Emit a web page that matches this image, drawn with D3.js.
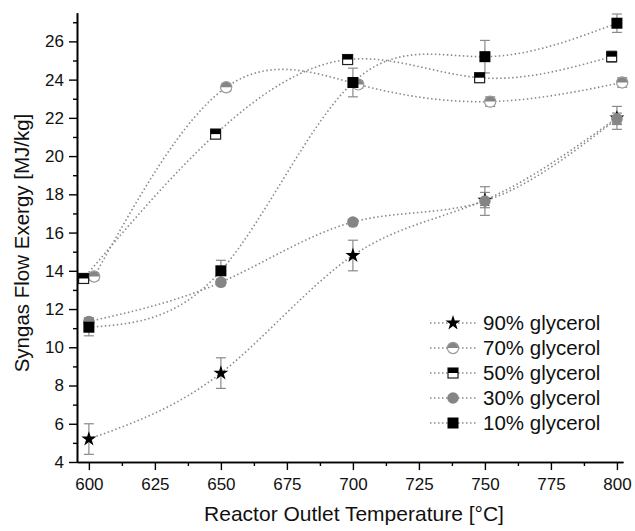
<!DOCTYPE html>
<html>
<head>
<meta charset="utf-8">
<script src="https://cdn.jsdelivr.net/npm/d3@7"></script>
<style>
  body { margin: 0; background: #fff; }
  svg { font-family: "Liberation Sans", Arial, sans-serif; }
</style>
</head>
<body>
<script>
// data
const seriesNames = ["90% glycerol", "70% glycerol", "50% glycerol", "30% glycerol", "10% glycerol"];
const temps = [600, 650, 700, 750, 800];
// 50% and 70% points are plotted slightly offset in the original
const temps50 = [598, 648, 698, 748, 798];
const temps70 = [602, 652, 702, 752, 802];

const g90 = [5.2, 8.65, 14.8, 17.7, 22.0];
const g70 = [13.7, 23.6, 23.75, 22.85, 23.85];
const g50 = [13.6, 21.15, 25.05, 24.1, 25.2];
const g30 = [11.35, 13.4, 16.55, 17.65, 21.95];
const g10 = [11.05, 14.0, 23.85, 25.2, 26.95];

const e90 = [0.8, 0.8, 0.8, 0.4, 0.6];
const e70 = [0.2, 0.2, 0.2, 0.25, 0.25];
const e50 = [0.2, 0.25, 0.2, 0.25, 0.3];
const e30 = [0.2, 0.15, 0.15, 0.75, 0.3];
const e10 = [0.45, 0.55, 0.75, 0.85, 0.48];

const yTicks = [4, 6, 8, 10, 12, 14, 16, 18, 20, 22, 24, 26];
const xTicks = [600, 625, 650, 675, 700, 725, 750, 775, 800];

const w = 635;
const h = 531;
const padL = 77, padR = 623, padT = 12.7, padB = 462;

const xScale = d3.scaleLinear().domain([595.5, 802.3]).range([padL, padR]);
const yScale = d3.scaleLinear().domain([4, 27.5]).range([padB, padT]);

const svg = d3.select("body").append("svg")
  .attr("width", w).attr("height", h);

const series = [
  { name: seriesNames[0], x: temps, y: g90, e: e90, marker: "star" },
  { name: seriesNames[1], x: temps70, y: g70, e: e70, marker: "halfCircle" },
  { name: seriesNames[2], x: temps50, y: g50, e: e50, marker: "halfSquare" },
  { name: seriesNames[3], x: temps, y: g30, e: e30, marker: "circle" },
  { name: seriesNames[4], x: temps, y: g10, e: e10, marker: "square" }
];

const gray = "#8a8a8a";

// curves
const line = d3.line()
  .x((d) => xScale(d[0]))
  .y((d) => yScale(d[1]))
  .curve(d3.curveNatural);

series.forEach((s) => {
  svg.append("path")
    .attr("d", line(s.x.map((t, i) => [t, s.y[i]])))
    .attr("fill", "none")
    .attr("stroke", gray)
    .attr("stroke-width", 1.6)
    .attr("stroke-dasharray", "1.5,2.5");
});

// error bars
series.forEach((s) => {
  s.x.forEach((t, i) => {
    const cx = xScale(t);
    const y1 = yScale(s.y[i] + s.e[i]);
    const y2 = yScale(s.y[i] - s.e[i]);
    const g = svg.append("g").attr("stroke", gray).attr("stroke-width", 1.2);
    g.append("line").attr("x1", cx).attr("x2", cx).attr("y1", y1).attr("y2", y2);
    g.append("line").attr("x1", cx - 5).attr("x2", cx + 5).attr("y1", y1).attr("y2", y1);
    g.append("line").attr("x1", cx - 5).attr("x2", cx + 5).attr("y1", y2).attr("y2", y2);
  });
});

// markers
function drawMarker(g, type, cx, cy) {
  if (type === "star") {
    g.append("path")
      .attr("d", d3.symbol(d3.symbolStar, 70)())
      .attr("transform", "translate(" + cx + "," + cy + ")")
      .attr("fill", "#000");
  } else if (type === "circle") {
    g.append("circle").attr("cx", cx).attr("cy", cy).attr("r", 5.8)
      .attr("fill", "#858585");
  } else if (type === "halfCircle") {
    const r = 5.6;
    g.append("circle").attr("cx", cx).attr("cy", cy).attr("r", r).attr("fill", "#fff");
    g.append("path")
      .attr("d", "M" + (cx - r) + "," + cy + " A" + r + "," + r + " 0 0 1 " + (cx + r) + "," + cy + " Z")
      .attr("fill", "#858585");
    g.append("circle").attr("cx", cx).attr("cy", cy).attr("r", r)
      .attr("fill", "none").attr("stroke", "#9a9a9a").attr("stroke-width", 1.2);
  } else if (type === "square") {
    g.append("rect").attr("x", cx - 5.5).attr("y", cy - 5.5)
      .attr("width", 11).attr("height", 11).attr("fill", "#000");
  } else if (type === "halfSquare") {
    g.append("rect").attr("x", cx - 5).attr("y", cy - 5)
      .attr("width", 10).attr("height", 10).attr("fill", "#fff")
      .attr("stroke", "#222").attr("stroke-width", 1.2);
    g.append("rect").attr("x", cx - 5).attr("y", cy - 5)
      .attr("width", 10).attr("height", 5).attr("fill", "#000");
  }
}

series.forEach((s) => {
  const g = svg.append("g");
  s.x.forEach((t, i) => drawMarker(g, s.marker, xScale(t), yScale(s.y[i])));
});

// axes
const yAxis = d3.axisLeft(yScale).tickValues(yTicks).tickSize(8).tickSizeOuter(0).tickPadding(5);
const yMinor = d3.axisLeft(yScale).tickValues(d3.range(5, 28, 2)).tickSize(4).tickFormat("").tickSizeOuter(0);
const xAxis = d3.axisBottom(xScale).tickValues(xTicks).tickSize(8).tickSizeOuter(0).tickPadding(8);
const xMinor = d3.axisBottom(xScale).tickValues(d3.range(612.5, 800, 25)).tickSize(4).tickFormat("").tickSizeOuter(0);

function styleAxis(g) {
  g.selectAll("path").attr("stroke", "#000").attr("stroke-width", 1.6);
  g.selectAll("line").attr("stroke", "#000").attr("stroke-width", 1.4);
  g.selectAll("text").attr("font-size", 17).attr("fill", "#111")
    .attr("font-family", "Liberation Sans, Arial, sans-serif");
}

svg.append("g").attr("transform", "translate(" + padL + ",0)").call(yMinor).call(styleAxis);
svg.append("g").attr("transform", "translate(" + padL + ",0)").call(yAxis).call(styleAxis);
svg.append("g").attr("transform", "translate(0," + padB + ")").call(xMinor).call(styleAxis);
svg.append("g").attr("transform", "translate(0," + padB + ")").call(xAxis).call(styleAxis);

// axis titles
svg.append("text")
  .attr("transform", "translate(29,243) rotate(-90)")
  .attr("text-anchor", "middle")
  .attr("font-size", 20.5)
  .attr("fill", "#111")
  .text("Syngas Flow Exergy [MJ/kg]");

svg.append("text")
  .attr("x", 354)
  .attr("y", 521)
  .attr("text-anchor", "middle")
  .attr("font-size", 21)
  .attr("fill", "#111")
  .text("Reactor Outlet Temperature [°C]");

// legend
const legend = svg.append("g");
series.forEach((s, i) => {
  const ly = 323 + i * 25;
  legend.append("line")
    .attr("x1", 430).attr("x2", 477).attr("y1", ly).attr("y2", ly)
    .attr("stroke", gray).attr("stroke-width", 1.6)
    .attr("stroke-dasharray", "1.5,2.5");
  drawMarker(legend, s.marker, 453, ly);
  legend.append("text")
    .attr("x", 483).attr("y", ly + 7)
    .attr("font-size", 20.5)
    .attr("fill", "#111")
    .text(s.name);
});
</script>
</body>
</html>
